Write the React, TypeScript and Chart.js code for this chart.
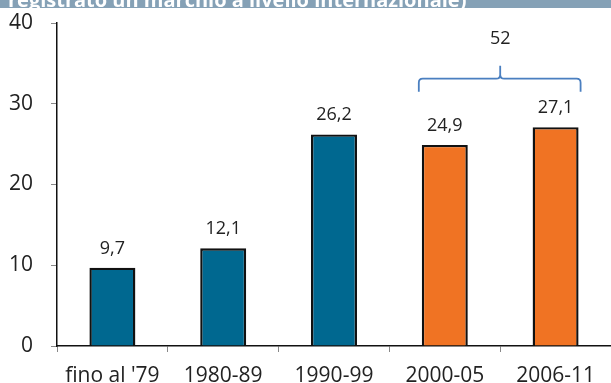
import React, { useEffect, useRef } from "react";
import { Chart, registerables } from "chart.js";

Chart.register(...registerables);

const categories = ["fino al '79", "1980-89", "1990-99", "2000-05", "2006-11"];
const values = [9.7, 12.1, 26.2, 24.9, 27.1];
const barColors = ["#006890", "#006890", "#006890", "#f07323", "#f07323"];
const valueLabels = ["9,7", "12,1", "26,2", "24,9", "27,1"];
const yTicks = [0, 10, 20, 30, 40];
const headerText = "registrato un marchio a livello internazionale)";
const bracketLabel = "52";
const bracketFrom = 3;
const bracketTo = 4;
// bracket levels in data units
const bracketBase = 31.5;
const bracketLine = 33.1;
const bracketPeak = 34.7;
const bracketTextLevel = 37.4;

const FONT = "'Open Sans', 'Noto Sans', sans-serif";

const overlayPlugin = {
  id: "overlay",
  afterDatasetsDraw(chart: any) {
    const { ctx } = chart;
    const x = chart.scales.x;
    const y = chart.scales.y;
    const meta = chart.getDatasetMeta(0);
    ctx.save();
    // value labels
    ctx.fillStyle = "#222";
    ctx.font = `18px ${FONT}`;
    ctx.textAlign = "center";
    ctx.textBaseline = "alphabetic";
    meta.data.forEach((bar: any, i: number) => {
      ctx.fillText(valueLabels[i], bar.x, bar.y - 14);
    });
    // bracket
    const b1 = meta.data[bracketFrom];
    const b2 = meta.data[bracketTo];
    const left = b1.x - b1.width / 2 - 3;
    const right = b2.x + b2.width / 2 + 2;
    const mid = (x.getPixelForValue(bracketFrom) + x.getPixelForValue(bracketTo)) / 2;
    const yb = y.getPixelForValue(bracketBase);
    const yl = y.getPixelForValue(bracketLine);
    const yp = y.getPixelForValue(bracketPeak);
    const r = 4;
    ctx.strokeStyle = "#4a7fc0";
    ctx.lineWidth = 1.8;
    ctx.beginPath();
    ctx.moveTo(left, yb);
    ctx.lineTo(left, yl + r);
    ctx.quadraticCurveTo(left, yl, left + r, yl);
    ctx.lineTo(mid - r, yl);
    ctx.quadraticCurveTo(mid, yl, mid, yl - r);
    ctx.lineTo(mid, yp);
    ctx.moveTo(mid, yl - r);
    ctx.quadraticCurveTo(mid, yl, mid + r, yl);
    ctx.lineTo(right - r, yl);
    ctx.quadraticCurveTo(right, yl, right, yl + r);
    ctx.lineTo(right, yb);
    ctx.stroke();
    ctx.fillStyle = "#222";
    ctx.font = `18px ${FONT}`;
    ctx.fillText(bracketLabel, mid, y.getPixelForValue(bracketTextLevel));
    ctx.restore();
  },
  afterDraw(chart: any) {
    const { ctx } = chart;
    ctx.save();
    ctx.fillStyle = "#85a1b6";
    ctx.fillRect(0, 0, chart.width, 8);
    ctx.beginPath();
    ctx.rect(0, 0, chart.width, 8);
    ctx.clip();
    ctx.fillStyle = "#ffffff";
    ctx.font = `bold 20px ${FONT}`;
    ctx.textAlign = "left";
    ctx.textBaseline = "alphabetic";
    ctx.fillText(headerText, 8, 7);
    ctx.restore();
  },
};

export default function App() {
  const ref = useRef<HTMLCanvasElement>(null);
  useEffect(() => {
    document.body.style.margin = "0";
    const chart = new Chart(ref.current!, {
      type: "bar",
      data: {
        labels: categories,
        datasets: [
          {
            data: values,
            backgroundColor: barColors,
            borderColor: "#111",
            borderWidth: 2.4,
            barPercentage: 0.83,
            categoryPercentage: 0.5,
          },
        ],
      },
      options: {
        animation: false,
        responsive: false,
        maintainAspectRatio: false,
        layout: { padding: { top: 23, right: 0, left: 0, bottom: 0 } },
        plugins: { legend: { display: false }, tooltip: { enabled: false } },
        scales: {
          x: {
            offset: true,
            afterFit(scale: any) {
              scale.height = 37;
            },
            grid: {
              display: true,
              offset: true,
              drawOnChartArea: false,
              drawTicks: true,
              tickLength: 6,
              color: "#888",
            },
            border: { display: true, color: "#111", width: 1.5 },
            ticks: {
              color: "#222",
              font: { family: FONT, size: 21 },
              padding: 11,
              maxRotation: 0,
              autoSkip: false,
            },
          },
          y: {
            min: 0,
            max: 40,
            afterBuildTicks(scale: any) {
              scale.ticks = yTicks.map((v) => ({ value: v }));
            },
            afterFit(scale: any) {
              scale.width = 57;
              scale.paddingTop = 0;
              scale.paddingBottom = 0;
            },
            grid: {
              display: true,
              drawOnChartArea: false,
              drawTicks: true,
              tickLength: 6,
              color: "#888",
            },
            border: { display: true, color: "#111", width: 1.5 },
            ticks: {
              color: "#222",
              font: { family: FONT, size: 21 },
              padding: 18,
            },
          },
        },
      },
      plugins: [overlayPlugin],
    });
    return () => chart.destroy();
  }, []);
  return (
    <div style={{ position: "absolute", left: 0, top: 0, width: 611, height: 383 }}>
      <canvas ref={ref} width={611} height={383} style={{ display: "block" }} />
    </div>
  );
}
